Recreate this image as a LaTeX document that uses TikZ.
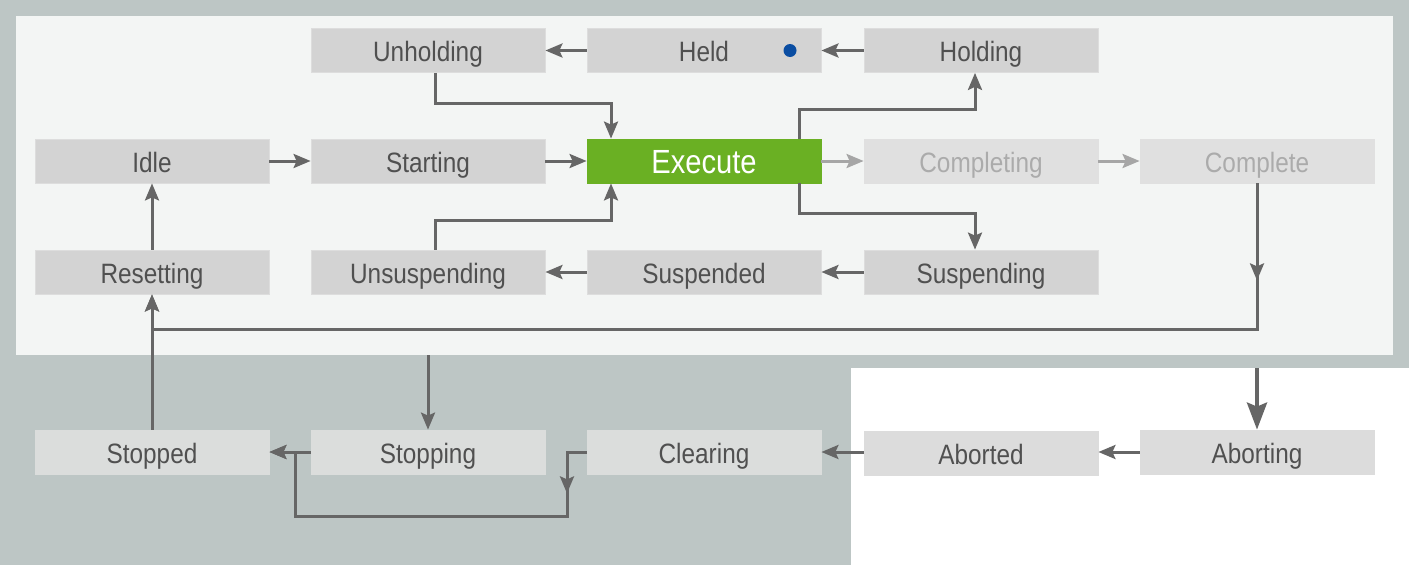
\documentclass[tikz,border=0pt]{standalone}
\usepackage{fontspec}
\setmainfont{Liberation Sans}[FakeStretch=0.87]
\usetikzlibrary{arrows.meta,decorations.markings}
\definecolor{outerbg}{HTML}{BDC6C5}
\definecolor{panelbg}{HTML}{F3F5F4}
\definecolor{boxgray}{HTML}{D3D3D3}
\definecolor{boxedge}{HTML}{DDDDDD}
\definecolor{boxlight}{HTML}{E0E0E0}
\definecolor{boxlow}{HTML}{DBDDDC}
\definecolor{boxwhite}{HTML}{DCDCDC}
\definecolor{txtdark}{HTML}{505050}
\definecolor{txtlight}{HTML}{ABABAB}
\definecolor{linecol}{HTML}{666666}
\definecolor{linelight}{HTML}{A6A6A6}
\definecolor{execgreen}{HTML}{6AB023}
\definecolor{dotblue}{HTML}{0A4DA2}
\tikzset{
  state/.style={rectangle, minimum width=234pt, minimum height=44pt, inner sep=0pt,
    fill=boxgray, draw=boxedge, line width=0.8pt, text=txtdark,
    font=\fontsize{28}{30}\selectfont, text height=22pt, text depth=0pt},
  faded/.style={state, fill=boxlight, draw=boxlight, text=txtlight},
  lowstate/.style={state, fill=boxlow, draw=boxlow},
  whitestate/.style={state, fill=boxwhite, draw=boxwhite},
  execstate/.style={state, fill=execgreen, draw=execgreen, text=white,
    font=\fontsize{33.5}{36}\selectfont, text height=24.6pt},
  tiphead/.style={},
  conn/.style={draw=linecol, line width=3pt, -{Stealth[length=17pt,width=14pt,inset=3pt]}},
  connlight/.style={conn, draw=linelight},
  bigconn/.style={draw=linecol, line width=4pt, -{Stealth[length=27pt,width=20pt,inset=4pt]}},
  midtip/.style={postaction={decorate}, decoration={markings,
    mark=at position #1 with {\arrow{Stealth[length=17pt,width=14pt,inset=3pt]}}}}
}
\begin{document}
\begin{tikzpicture}[x=1pt,y=-1pt]
\useasboundingbox (0,0) rectangle (1409,565);
% backgrounds
\fill[outerbg] (0,0) rectangle (1409,565);
\fill[panelbg] (16,16) rectangle (1393,355);
\fill[white] (851,368) rectangle (1409,565);
% row 1
\node[state] (unholding) at (428,50.5) {Unholding};
\node[state] (held) at (704,50.5) {Held};
\node[state] (holding) at (981,50.5) {Holding};
\fill[dotblue] (790,50.5) circle (6.5pt);
% row 2
\node[state] (idle) at (152,161) {Idle};
\node[state] (starting) at (428,161) {Starting};
\node[execstate] (execute) at (704,161) {Execute};
\node[faded] (completing) at (981,161) {Completing};
\node[faded] (complete) at (1257,161) {Complete};
% row 3
\node[state] (resetting) at (152,272) {Resetting};
\node[state] (unsuspending) at (428,272) {Unsuspending};
\node[state] (suspended) at (704,272) {Suspended};
\node[state] (suspending) at (981,272) {Suspending};
% row 4
\node[lowstate] (stopped) at (152,452) {Stopped};
\node[lowstate] (stopping) at (428,452) {Stopping};
\node[lowstate] (clearing) at (704,452) {Clearing};
\node[whitestate] (aborted) at (981,453) {Aborted};
\node[whitestate] (aborting) at (1257,452) {Aborting};
% coordinates on the panel edges
\coordinate (panelstop) at (428,355);
\coordinate (panelabort) at (1257,368);
% connectors
\draw[conn] (holding.west) -- (held.east);
\draw[conn] (held.west) -- (unholding.east);
\draw[conn] (unholding.south -| 435,0) |- (611,103) -- (execute.north -| 611,0);
\draw[conn] (idle.east) -- (starting.west);
\draw[conn] (starting.east) -- (execute.west);
\draw[connlight] (execute.east) -- (completing.west);
\draw[connlight] (completing.east) -- (complete.west);
\draw[conn] (execute.north -| 799,0) |- (975,109) -- (holding.south -| 975,0);
\draw[conn] (execute.south -| 799,0) |- (975,213) -- (suspending.north -| 975,0);
\draw[conn] (suspending.west) -- (suspended.east);
\draw[conn] (suspended.west) -- (unsuspending.east);
\draw[conn] (unsuspending.north -| 435,0) |- (611,220) -- (execute.south -| 611,0);
\draw[conn] (resetting.north) -- (idle.south);
\draw[conn, midtip=97pt] (complete.south) -- (1257,329) -- (152,329) -- (resetting.south);
\draw[conn] (stopped.north) -- (resetting.south);
\draw[conn] (panelstop) -- (stopping.north);
\draw[conn] (stopping.west) -- (stopped.east);
\draw[conn, midtip=61pt] (clearing.west) -- (567,452) -- (567,516) -- (295,516) -- (295,452) -- (stopped.east);
\draw[conn] (aborted.west |- 0,452) -- (clearing.east);
\draw[conn] (aborting.west) -- (aborted.east |- 0,452);
\draw[bigconn] (panelabort) -- (aborting.north);
\end{tikzpicture}
\end{document}
